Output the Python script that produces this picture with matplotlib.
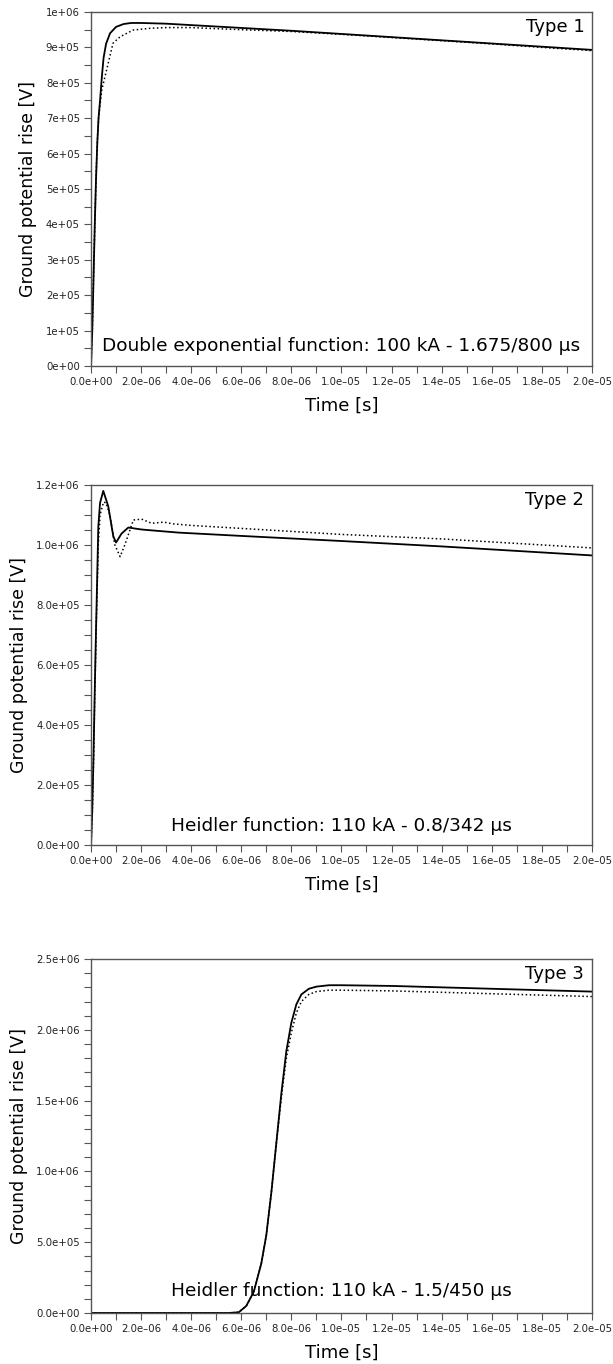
import matplotlib
matplotlib.use("Agg")
import matplotlib.pyplot as plt
from matplotlib.ticker import MultipleLocator, FuncFormatter

# time in microseconds, voltage in MV (converted below)
t1_solid = [0, 0.05, 0.1, 0.15, 0.2, 0.25, 0.3, 0.36, 0.43, 0.5, 0.6, 0.76, 1.0, 1.3, 1.6, 2.0,
            3, 4, 6, 8, 10, 12, 14, 16, 18, 20]
v1_solid = [0, 0.1, 0.25, 0.4, 0.53, 0.63, 0.7, 0.75, 0.815, 0.87, 0.91, 0.94, 0.958, 0.966, 0.969, 0.969,
            0.967, 0.963, 0.955, 0.947, 0.938, 0.929, 0.92, 0.911, 0.902, 0.893]
t1_dot = [0, 0.05, 0.1, 0.15, 0.2, 0.25, 0.3, 0.43, 0.62, 0.88, 1.16, 1.68, 2.36, 3, 4, 5, 6, 8,
          10, 12, 14, 16, 18, 20]
v1_dot = [0, 0.1, 0.25, 0.4, 0.53, 0.63, 0.7, 0.78, 0.836, 0.912, 0.93, 0.949, 0.954, 0.956, 0.956,
          0.953, 0.95, 0.945, 0.937, 0.928, 0.919, 0.91, 0.9, 0.891]

t2_solid = [0, 0.05, 0.1, 0.15, 0.2, 0.23, 0.29, 0.36, 0.49, 0.69, 0.89, 1.0, 1.22, 1.49, 1.96, 2.2,
            3.5, 6, 10, 14, 18, 20]
v2_solid = [0, 0.12, 0.3, 0.52, 0.72, 0.83, 1.06, 1.14, 1.18, 1.128, 1.028, 1.008, 1.038, 1.058, 1.052,
            1.05, 1.041, 1.03, 1.013, 0.995, 0.975, 0.965]
t2_dot = [0, 0.05, 0.1, 0.15, 0.2, 0.23, 0.29, 0.36, 0.5, 0.6, 0.75, 0.95, 1.16, 1.35, 1.69, 2.02,
          2.42, 2.9, 3.3, 4, 6, 10, 14, 18, 20]
v2_dot = [0, 0.1, 0.28, 0.5, 0.7, 0.8, 1.0, 1.1, 1.143, 1.14, 1.1, 1.0, 0.961, 1.0, 1.083, 1.086,
          1.072, 1.076, 1.07, 1.065, 1.055, 1.035, 1.02, 1.0, 0.99]

t3_solid = [0, 5.5, 5.9, 6.2, 6.5, 6.8, 7.0, 7.2, 7.4, 7.6, 7.8, 8.0, 8.2, 8.4, 8.7, 9.0, 9.5, 10,
            12, 14, 16, 18, 20]
v3_solid = [0, 0, 0.005, 0.05, 0.15, 0.35, 0.55, 0.85, 1.2, 1.55, 1.85, 2.05, 2.18, 2.25, 2.29, 2.305,
            2.315, 2.315, 2.31, 2.3, 2.29, 2.28, 2.27]
t3_dot = [0, 5.5, 5.9, 6.2, 6.5, 6.8, 7.0, 7.2, 7.4, 7.6, 7.8, 8.0, 8.2, 8.4, 8.7, 9.0, 9.5, 10,
          12, 14, 16, 18, 20]
v3_dot = [0, 0, 0.005, 0.05, 0.15, 0.35, 0.55, 0.85, 1.2, 1.52, 1.8, 1.98, 2.12, 2.2, 2.25, 2.27,
          2.28, 2.28, 2.275, 2.265, 2.255, 2.245, 2.235]

titles = ["Type 1", "Type 2", "Type 3"]
notes = ["Double exponential function: 100 kA - 1.675/800 \u03bcs",
         "Heidler function: 110 kA - 0.8/342 \u03bcs",
         "Heidler function: 110 kA - 1.5/450 \u03bcs"]
ymax = [1e6, 1.2e6, 2.5e6]
ymajor = [1e5, 2e5, 5e5]
yminor = [5e4, 5e4, 1e5]
yfmt = ['%.0e', '%.1e', '%.1e']
note_y = [0.056, 0.053, 0.062]

series = [(t1_solid, v1_solid, t1_dot, v1_dot),
          (t2_solid, v2_solid, t2_dot, v2_dot),
          (t3_solid, v3_solid, t3_dot, v3_dot)]


def sci(fmt):
    # scientific labels with the long dash used in the original
    return FuncFormatter(lambda v, pos: (fmt % v).replace('-', '\u2013'))


fig = plt.figure(figsize=(6.13, 13.64), dpi=100)
# axes boxes in figure fractions (left, bottom, width, height)
boxes = [(0.1485, 0.7317, 0.817, 0.2595),
         (0.1485, 0.3805, 0.817, 0.2640),
         (0.1485, 0.0374, 0.817, 0.2595)]

for i in range(3):
    ax = fig.add_axes(boxes[i])
    ts, vs, td, vd = series[i]
    ax.plot([t * 1e-6 for t in ts], [v * 1e6 for v in vs], '-', color='black', lw=1.3)
    ax.plot([t * 1e-6 for t in td], [v * 1e6 for v in vd], ':', color='black', lw=1.1)
    ax.set_xlim(0, 2e-5)
    ax.set_ylim(0, ymax[i])
    ax.xaxis.set_major_locator(MultipleLocator(2e-6))
    ax.xaxis.set_minor_locator(MultipleLocator(1e-6))
    ax.xaxis.set_major_formatter(sci('%.1e'))
    ax.yaxis.set_major_locator(MultipleLocator(ymajor[i]))
    ax.yaxis.set_minor_locator(MultipleLocator(yminor[i]))
    ax.yaxis.set_major_formatter(sci(yfmt[i]))
    ax.tick_params(which='both', direction='out', length=5, width=0.8, color='#555555',
                   labelsize=7.3, labelcolor='#222222', pad=3)
    for s in ax.spines.values():
        s.set_color('#555555')
        s.set_linewidth(1.0)
    ax.set_xlabel("Time [s]", fontsize=13, labelpad=7)
    ax.set_ylabel("Ground potential rise [V]", fontsize=12.5, labelpad=6)
    ax.text(0.985, 0.958, titles[i], transform=ax.transAxes, ha='right', va='center', fontsize=13)
    ax.text(0.5, note_y[i], notes[i], transform=ax.transAxes, ha='center', va='center', fontsize=13.3)

fig.savefig("out.png", dpi=100)
